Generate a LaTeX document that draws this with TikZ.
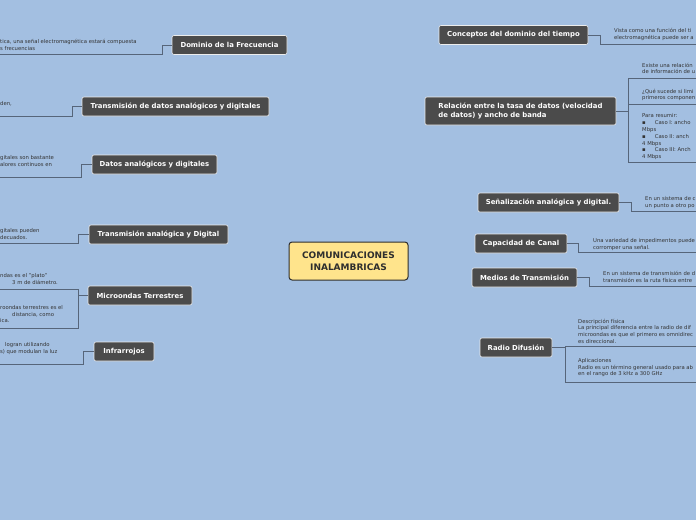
\documentclass[tikz,border=0pt]{standalone}
\usepackage{fontspec}
\setmainfont{DejaVu Sans}
\usetikzlibrary{backgrounds}
\definecolor{bgblue}{HTML}{A3BFE1}
\definecolor{topicgray}{HTML}{4B4B4B}
\definecolor{centeryellow}{HTML}{FFE48C}
\definecolor{linedark}{HTML}{2E2E2E}
\definecolor{bracketc}{HTML}{56657A}
\definecolor{notetext}{HTML}{333333}
\tikzset{
  topic/.style={fill=topicgray, draw=white!85!gray, line width=0.6pt, rounded corners=2pt,
    text=white, font=\fontsize{6.9}{8.4}\selectfont\bfseries, inner xsep=7pt, inner ysep=0pt,
    minimum height=19pt, align=left},
  central/.style={fill=centeryellow, draw=linedark, line width=1pt, rounded corners=3pt,
    text=linedark, font=\fontsize{9}{11.5}\selectfont\bfseries, align=center,
    minimum width=119pt, minimum height=38pt, inner sep=2pt},
  note/.style={anchor=north west, inner sep=0pt, text=notetext,
    font=\fontsize{5.3}{6.6}\selectfont, align=left},
  conn/.style={draw=linedark, line width=1pt},
  brk/.style={draw=bracketc, line width=0.7pt},
}
\begin{document}
\begin{tikzpicture}[x=1pt,y=-1pt]
\fill[bgblue] (0,0) rectangle (696,520);
\useasboundingbox (0,0) rectangle (696,520);
\clip (0,0) rectangle (696,520);

% central
\node[central] (c) at (348.5,261) {COMUNICACIONES\\INALAMBRICAS};

% left topics
\node[topic, minimum width=115pt] (l1) at (229.5,45) {Dominio de la Frecuencia};
\node[topic, minimum width=187pt] (l2) at (175.5,106.5) {Transmisión de datos analógicos y digitales};
\node[topic, minimum width=125pt] (l3) at (154.5,164.5) {Datos analógicos y digitales};
\node[topic, minimum width=139pt] (l4) at (158.5,234.5) {Transmisión analógica y Digital};
\node[topic, minimum width=104pt] (l5) at (140,295.5) {Microondas Terrestres};
\node[topic, minimum width=60pt] (l6) at (124,351.5) {Infrarrojos};

% right topics
\node[topic, minimum width=149pt] (r1) at (513.5,35) {Conceptos del dominio del tiempo};
\node[topic, minimum height=28pt, minimum width=191pt] (r2) at (520.5,111) {Relación entre la tasa de datos (velocidad\\de datos) y ancho de banda};
\node[topic, minimum width=141pt] (r3) at (548.5,202.5) {Señalización analógica y digital.};
\node[topic, minimum width=92pt] (r4) at (521,243.5) {Capacidad de Canal};
\node[topic, minimum width=105pt] (r5) at (524.5,277.5) {Medios de Transmisión};
\node[topic, minimum width=72pt] (r6) at (516,347.5) {Radio Difusión};

% connectors behind
\begin{pgfonlayer}{background}
\path[conn] (c.center) .. controls (349,110) and (325,45) .. (l1.east);
\path[conn] (c.center) .. controls (349,150) and (320,106.5) .. (l2.east);
\path[conn] (c.center) .. controls (349,205) and (290,164.5) .. (l3.east);
\path[conn] (c.center) .. controls (300,245) and (270,234.5) .. (l4.east);
\path[conn] (c.center) .. controls (349,292) and (260,295.5) .. (l5.east);
\path[conn] (c.center) .. controls (349,340) and (250,351.5) .. (l6.east);
\path[conn] (c.center) .. controls (349,90) and (380,35) .. (r1.west);
\path[conn] (c.center) .. controls (349,140) and (385,111) .. (r2.west);
\path[conn] (c.center) .. controls (360,215) and (420,202.5) .. (r3.west);
\path[conn] (c.center) .. controls (410,246) and (440,243.5) .. (r4.west);
\path[conn] (c.center) .. controls (410,275) and (440,277.5) .. (r5.west);
\path[conn] (c.center) .. controls (349,330) and (400,347.5) .. (r6.west);
\end{pgfonlayer}

% left notes and brackets
\node[note] (n1) at (0,39.3) {tica, una señal electromagnética estará compuesta\\s frecuencias};
\coordinate (e1) at (0,54);
\path[brk] (l1.west) -- (162,45) -- (162,54) -- (e1);

\node[note] (n2) at (0,101.3) {den,};
\coordinate (e2) at (0,116);
\path[brk] (l2.west) -- (72,106.5) -- (72,116) -- (e2);

\node[note] (n3) at (0,155.3) {gitales son bastante\\alores continuos en};
\coordinate (e3) at (0,177);
\path[brk] (l3.west) -- (81,164.5) -- (81,177) -- (e3);

\node[note] (n4) at (0,228.3) {gitales pueden\\decuados.};
\coordinate (e4) at (0,243);
\path[brk] (l4.west) -- (78,234.5) -- (78,243) -- (e4);

\node[note] (n5a) at (0,273.3) {ndas es el "plato"};
\node[note] (n5a2) at (12,279.9) {3 m de diámetro.};
\node[note] (n5b) at (0,305.3) {roondas terrestres es el};
\node[note] (n5b2) at (12,311.9) {distancia, como};
\node[note] (n5b3) at (0,318.5) {ica.};
\coordinate (e5a) at (0,289);
\coordinate (e5b) at (0,328);
\path[brk] (l5.west) -- (78,295.5);
\path[brk] (e5a) -- (78,289) -- (78,328) -- (e5b);

\node[note] (n6) at (5,342.3) {logran utilizando};
\node[note] (n6b) at (0,348.9) {s) que modulan la luz};
\coordinate (e6) at (0,364);
\path[brk] (l6.west) -- (83,351.5) -- (83,364) -- (e6);

% right notes and brackets
\node[note] (m1) at (614,28.3) {Vista como una función del ti\\electromagnética puede ser a};
\coordinate (f1) at (696,44);
\path[brk] (r1.east) -- (600,35) -- (600,44) -- (f1);

\node[note] (m2a) at (642,62.6) {Existe una relación\\de información de u};
\node[note] (m2b) at (642,88.6) {¿Qué sucede si limi\\primeros componen};
\node[note, font=\fontsize{5.3}{6.8}\selectfont] (m2c) at (642,113.6) {Para resumir:\\▪\hspace*{9pt}Caso I: ancho\\Mbps\\▪\hspace*{9pt}Caso II: anch\\4 Mbps\\▪\hspace*{9pt}Caso III: Anch\\4 Mbps};
\coordinate (f2a) at (696,78);
\coordinate (f2b) at (696,104);
\coordinate (f2c) at (696,162);
\path[brk] (r2.east) -- (628,111);
\path[brk] (f2a) -- (628,78) -- (628,162) -- (f2c);
\path[brk] (628,104) -- (f2b);

\node[note] (m3) at (645,196.3) {En un sistema de c\\un punto a otro po};
\coordinate (f3) at (696,211.5);
\path[brk] (r3.east) -- (631,202.5) -- (631,211.5) -- (f3);

\node[note] (m4) at (593,238.3) {Una variedad de impedimentos puede\\corromper una señal.};
\coordinate (f4) at (696,252);
\path[brk] (r4.east) -- (578,243.5) -- (578,252) -- (f4);

\node[note] (m5) at (603,271.3) {En un sistema de transmisión de d\\transmisión es la ruta física entre};
\coordinate (f5) at (696,286);
\path[brk] (r5.east) -- (589,277.5) -- (589,286) -- (f5);

\node[note] (m6a) at (578,318.8) {Descripción física\\La principal diferencia entre la radio de dif\\microondas es que el primero es omnidirec\\es direccional.};
\node[note] (m6b) at (578,358.3) {Aplicaciones\\Radio es un término general usado para ab\\en el rango de 3 kHz a 300 GHz};
\coordinate (f6a) at (696,346);
\coordinate (f6b) at (696,382);
\path[brk] (r6.east) -- (565,347.5);
\path[brk] (f6a) -- (565,346) -- (565,382) -- (f6b);
\end{tikzpicture}
\end{document}
